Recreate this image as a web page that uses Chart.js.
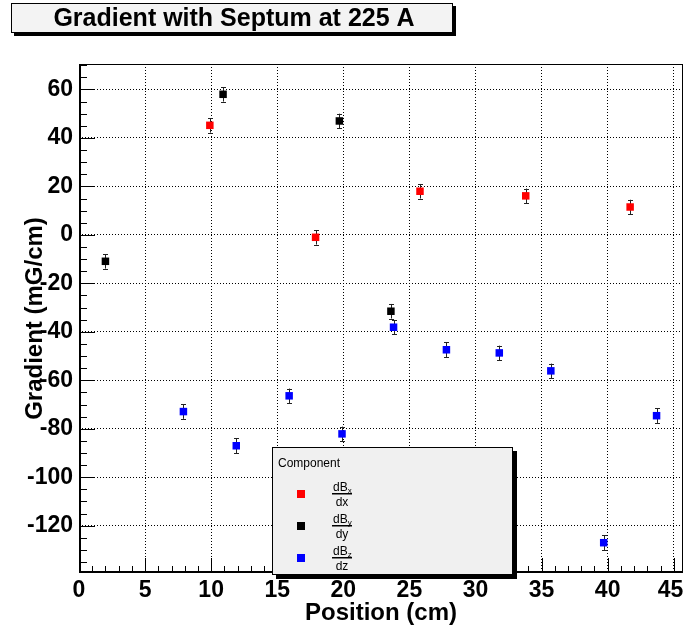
<!DOCTYPE html>
<html>
<head>
<meta charset="utf-8">
<script src="https://cdn.jsdelivr.net/npm/chart.js@4"></script>
<style>
html, body { margin: 0; padding: 0; background: #fff; }
#wrap { width: 684px; height: 634px; }
</style>
</head>
<body>
<div id="wrap"><canvas id="grad"></canvas></div>
<script>
// values
const posX = [9.9, 17.9, 25.8, 33.8, 41.7]
const gradX = [45.2, -1.0, 18.0, 16.1, 11.5]
const errX = [3.0, 3.0, 3.0, 3.0, 3.0]

const posY = [2.0, 10.9, 19.7, 23.6]
const gradY = [-10.9, 58.0, 47.0, -31.5]
const errY = [3.0, 3.0, 3.0, 3.0]

const posZ = [7.9, 11.9, 15.9, 19.9, 23.8, 27.8, 31.8, 35.7, 39.7, 43.7]
const gradZ = [-72.9, -87.0, -66.4, -82.1, -38.1, -47.4, -48.7, -56.1, -127.0, -74.6]
const errZ = [3.0, 3.0, 3.0, 3.0, 3.0, 3.0, 3.0, 3.0, 3.0, 3.0]

const seriesNum = ['dB', 'dB', 'dB']
const seriesSub = ['x', 'y', 'z']
const seriesDen = ['dx', 'dy', 'dz']
const seriesColors = ['#ff0000', '#000000', '#0000ff']

const titleText = 'Gradient with Septum at 225 A'
const legendTitle = 'Component'

function toPoints(xs, ys){
    let pts = []
    for(let i=0; i<xs.length; i++){
        pts.push({x: xs[i], y: ys[i]})
    }
    return pts
}

const errors = [errX, errY, errZ]
const FONT = '"Liberation Sans", Arial, Helvetica, sans-serif'

// error bars, ticks, frame, title box and the legend box
const rootStyle = {
    id: 'rootStyle',
    beforeDatasetsDraw(chart){
        const ctx = chart.ctx
        const ys = chart.scales.y
        ctx.save()
        ctx.strokeStyle = '#222'
        ctx.lineWidth = 1
        chart.data.datasets.forEach((ds, di) => {
            const meta = chart.getDatasetMeta(di)
            meta.data.forEach((el, i) => {
                const e = errors[di][i]
                const v = ds.data[i].y
                const x = Math.round(el.x) + 0.5
                const y1 = ys.getPixelForValue(v + e)
                const y2 = ys.getPixelForValue(v - e)
                ctx.beginPath()
                ctx.moveTo(x, y1); ctx.lineTo(x, y2)
                ctx.moveTo(x - 2.5, Math.round(y1) + 0.5); ctx.lineTo(x + 2.5, Math.round(y1) + 0.5)
                ctx.moveTo(x - 2.5, Math.round(y2) + 0.5); ctx.lineTo(x + 2.5, Math.round(y2) + 0.5)
                ctx.stroke()
            })
        })
        ctx.restore()
    },
    afterDraw(chart){
        const ctx = chart.ctx
        const a = chart.chartArea
        const xs = chart.scales.x
        const ys = chart.scales.y
        ctx.save()

        // frame
        ctx.strokeStyle = '#000'
        ctx.lineWidth = 1
        ctx.strokeRect(a.left + 0.5, a.top + 0.5, a.right - a.left - 1, a.bottom - a.top - 1)
        ctx.lineWidth = 2
        ctx.beginPath()
        ctx.moveTo(a.left + 1, a.top); ctx.lineTo(a.left + 1, a.bottom)
        ctx.moveTo(a.left, a.bottom - 1); ctx.lineTo(a.right, a.bottom - 1)
        ctx.stroke()

        // tick marks, pointing inward
        ctx.lineWidth = 1
        ctx.beginPath()
        for(let v=0; v<=xs.max; v+=1){
            const px = Math.round(xs.getPixelForValue(v)) + 0.5
            const len = (v % 5 == 0) ? 15 : 7
            ctx.moveTo(px, a.bottom); ctx.lineTo(px, a.bottom - len)
        }
        for(let v=-135; v<=ys.max; v+=5){
            const py = Math.round(ys.getPixelForValue(v)) + 0.5
            const len = (v % 20 == 0) ? 16 : 8
            ctx.moveTo(a.left, py); ctx.lineTo(a.left + len, py)
        }
        ctx.stroke()

        // title box
        ctx.fillStyle = '#000'
        ctx.fillRect(14, 6, 442, 30)
        ctx.fillStyle = '#f3f3f3'
        ctx.fillRect(11, 3, 442, 30)
        ctx.strokeStyle = '#000'
        ctx.lineWidth = 1
        ctx.strokeRect(11.5, 3.5, 441, 29)
        ctx.fillStyle = '#000'
        ctx.font = 'bold 25px ' + FONT
        ctx.textAlign = 'center'
        ctx.textBaseline = 'middle'
        ctx.fillText(titleText, 234, 19)

        // legend box
        const lx = 272, ly = 447, lw = 241, lh = 128
        ctx.fillStyle = '#000'
        ctx.fillRect(lx + 4, ly + 4, lw, lh)
        ctx.fillStyle = '#f0f0f0'
        ctx.fillRect(lx, ly, lw, lh)
        ctx.strokeRect(lx + 0.5, ly + 0.5, lw - 1, lh - 1)
        ctx.fillStyle = '#000'
        ctx.font = '12px ' + FONT
        ctx.textAlign = 'left'
        ctx.textBaseline = 'alphabetic'
        ctx.fillText(legendTitle, lx + 6, ly + 20)

        const rowY = [494, 526, 558]
        for(let i=0; i<seriesNum.length; i++){
            const cy = rowY[i]
            ctx.fillStyle = seriesColors[i]
            ctx.fillRect(297, cy - 4, 8, 8)
            ctx.fillStyle = '#000'
            // fraction bar
            ctx.fillRect(332, cy - 1, 20, 1.5)
            ctx.font = '12px ' + FONT
            ctx.textAlign = 'left'
            ctx.fillText(seriesNum[i], 333, cy - 3)
            const w = ctx.measureText(seriesNum[i]).width
            ctx.font = '8px ' + FONT
            ctx.fillText(seriesSub[i], 333 + w, cy - 1)
            ctx.font = '12px ' + FONT
            ctx.textAlign = 'center'
            ctx.fillText(seriesDen[i], 342, cy + 12)
        }
        ctx.restore()
    }
}

function prepareChart(){
    const ctx = document.getElementById('grad').getContext('2d')
    const chart = new Chart(ctx, {
        type: 'scatter',
        data: {
            datasets: [
                {
                    label: 'dBx/dx',
                    data: toPoints(posX, gradX),
                    backgroundColor: seriesColors[0],
                    borderWidth: 0,
                    pointStyle: 'rect',
                    pointRadius: 5.3
                },
                {
                    label: 'dBy/dy',
                    data: toPoints(posY, gradY),
                    backgroundColor: seriesColors[1],
                    borderWidth: 0,
                    pointStyle: 'rect',
                    pointRadius: 5.3
                },
                {
                    label: 'dBz/dz',
                    data: toPoints(posZ, gradZ),
                    backgroundColor: seriesColors[2],
                    borderWidth: 0,
                    pointStyle: 'rect',
                    pointRadius: 5.3
                }
            ]
        },
        options: {
            responsive: true,
            maintainAspectRatio: false,
            animation: false,
            layout: {
                autoPadding: false,
                padding: {top: 64, right: 1, left: 0, bottom: 0}
            },
            plugins: {
                legend: {display: false},
                title: {display: false},
                tooltip: {enabled: false}
            },
            scales: {
                x: {
                    type: 'linear',
                    min: 0,
                    max: 45.7,
                    afterFit(scale){
                        scale.height = 61
                        scale.paddingLeft = 0
                        scale.paddingRight = 0
                    },
                    ticks: {
                        stepSize: 5,
                        includeBounds: false,
                        maxRotation: 0,
                        color: '#000',
                        padding: 4,
                        // keep the last label inside the canvas
                        callback: (v, i, ticks) => (i == ticks.length - 1) ? v + '\u00a0' : '' + v,
                        font: {family: FONT, size: 23, weight: 'bold'}
                    },
                    grid: {color: '#000', lineWidth: 1, drawTicks: false},
                    border: {display: false, dash: [1, 2]},
                    title: {
                        display: true,
                        text: 'Position (cm)',
                        color: '#000',
                        padding: {top: 0, bottom: 6},
                        font: {family: FONT, size: 24, weight: 'bold'}
                    }
                },
                y: {
                    type: 'linear',
                    min: -139.5,
                    max: 70.5,
                    afterFit(scale){
                        scale.width = 79
                        scale.paddingTop = 0
                        scale.paddingBottom = 0
                    },
                    ticks: {
                        stepSize: 20,
                        includeBounds: false,
                        color: '#000',
                        padding: 6,
                        font: {family: FONT, size: 23, weight: 'bold'}
                    },
                    grid: {color: '#000', lineWidth: 1, drawTicks: false},
                    border: {display: false, dash: [1, 2]},
                    title: {
                        display: true,
                        text: 'Gradient (mG/cm)',
                        color: '#000',
                        padding: {top: 21, bottom: 0},
                        font: {family: FONT, size: 24, weight: 'bold'}
                    }
                }
            }
        },
        plugins: [rootStyle]
    })
}
prepareChart()
</script>
</body>
</html>
